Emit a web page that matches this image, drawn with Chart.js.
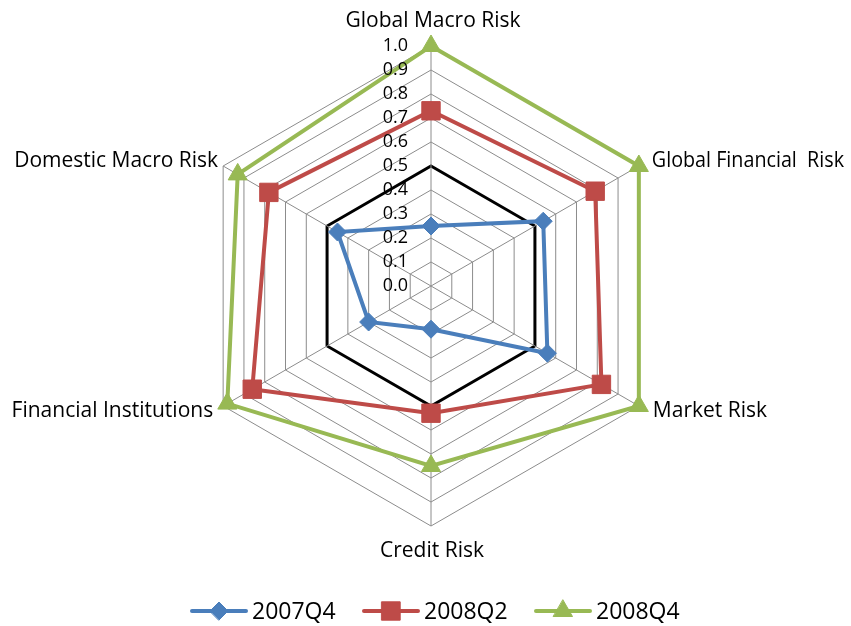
<!DOCTYPE html>
<html lang="en">
<head>
<meta charset="UTF-8" />
<title>Risk Radar</title>
<script src="https://cdn.jsdelivr.net/npm/chart.js"></script>
<style>
  html, body { margin: 0; padding: 0; background: #fff; }
  #wrap { width: 851px; height: 626px; }
</style>
</head>
<body>
<div id="wrap"><canvas id="radar" width="851" height="626"></canvas></div>
<script>
  // chart data
  const categories = ["Global Macro Risk", "Global Financial  Risk", "Market Risk",
                      "Credit Risk", "Financial Institutions", "Domestic Macro Risk"];
  const seriesNames = ["2007Q4", "2008Q2", "2008Q4"];
  const q4_2007 = [0.25, 0.54, 0.56, 0.18, 0.30, 0.45];
  const q2_2008 = [0.73, 0.79, 0.82, 0.53, 0.86, 0.78];
  const q4_2008 = [1.00, 1.00, 1.00, 0.75, 0.98, 0.93];
  const tickLabels = ["0.0", "0.1", "0.2", "0.3", "0.4", "0.5", "0.6", "0.7", "0.8", "0.9", "1.0"];

  const FONT = "'Open Sans', Lato, sans-serif";
  const colors = ["#4a7ebb", "#be4b48", "#98b954"];
  const markers = [
    { style: "rectRot", radius: 9 },
    { style: "rect", radius: 13 },
    { style: "triangle", radius: 11 }
  ];

  // label placement around the outer hexagon: offset of the baseline from the vertex
  const labelPos = [
    { dx: 2,   dy: -19, align: "center" },
    { dx: 13,  dy: 1,   align: "left" },
    { dx: 14,  dy: 11,  align: "left" },
    { dx: 1,   dy: 31,  align: "center" },
    { dx: -10, dy: 11,  align: "right" },
    { dx: -5,  dy: 1,   align: "right" }
  ];

  const isHalf = v => Math.abs(v - 0.5) < 1e-6;

  const textPlugin = {
    id: "radarText",
    afterDraw(chart) {
      const ctx = chart.ctx;
      const r = chart.scales.r;
      ctx.save();
      ctx.fillStyle = "#000";
      ctx.textBaseline = "alphabetic";

      // tick labels, left of the vertical axis
      ctx.font = "18px " + FONT;
      ctx.textAlign = "right";
      tickLabels.forEach(t => {
        const y = r.yCenter - r.getDistanceFromCenterForValue(Number(t)) + 5;
        ctx.fillText(t, r.xCenter - 23, y);
      });

      // category labels (squeezed only if they would run off the canvas)
      ctx.font = "21px " + FONT;
      categories.forEach((c, i) => {
        const p = r.getPointPosition(i, r.drawingArea);
        const lp = labelPos[i];
        const x = p.x + lp.dx;
        let room = chart.width;
        if (lp.align === "left") room = chart.width - x - 7;
        if (lp.align === "right") room = x - 4;
        ctx.textAlign = lp.align;
        ctx.fillText(c, x, p.y + lp.dy, room);
      });

      // legend: line + marker + name
      const starts = [192, 364, 536];
      const ly = 611;
      ctx.font = "23px " + FONT;
      ctx.textAlign = "left";
      seriesNames.forEach((name, i) => {
        const x0 = starts[i];
        ctx.strokeStyle = colors[i];
        ctx.fillStyle = colors[i];
        ctx.lineWidth = 4;
        ctx.lineCap = "round";
        ctx.beginPath();
        ctx.moveTo(x0, ly);
        ctx.lineTo(x0 + 54, ly);
        ctx.stroke();
        ctx.lineWidth = 1;
        Chart.helpers.drawPoint(ctx, {
          pointStyle: markers[i].style,
          radius: markers[i].radius,
          rotation: 0,
          borderWidth: 1
        }, x0 + 27, ly);
        ctx.fillStyle = "#000";
        ctx.fillText(name, x0 + 60, ly + 8);
      });
      ctx.restore();
    }
  };

  const allSeries = [q4_2007, q2_2008, q4_2008];

  new Chart(document.getElementById("radar"), {
    type: "radar",
    data: {
      labels: categories,
      datasets: allSeries.map((vals, i) => ({
        label: seriesNames[i],
        data: vals,
        borderColor: colors[i],
        backgroundColor: colors[i],
        borderWidth: 4,
        fill: false,
        pointStyle: markers[i].style,
        pointRadius: markers[i].radius,
        pointHoverRadius: markers[i].radius,
        pointBackgroundColor: colors[i],
        pointBorderColor: colors[i],
        pointBorderWidth: 1
      }))
    },
    options: {
      responsive: false,
      animation: false,
      devicePixelRatio: 1,
      layout: { padding: { left: 191, right: 180, top: 46, bottom: 100 } },
      plugins: {
        legend: { display: false },
        tooltip: { enabled: false }
      },
      scales: {
        r: {
          min: 0,
          max: 1,
          ticks: { display: false, stepSize: 0.1 },
          pointLabels: { display: false },
          grid: {
            color: ctx => isHalf(ctx.tick.value) ? "#000" : "#8c8c8c",
            lineWidth: ctx => isHalf(ctx.tick.value) ? 3 : 1
          },
          angleLines: { color: "#8c8c8c", lineWidth: 1 }
        }
      }
    },
    plugins: [textPlugin]
  });
</script>
</body>
</html>
